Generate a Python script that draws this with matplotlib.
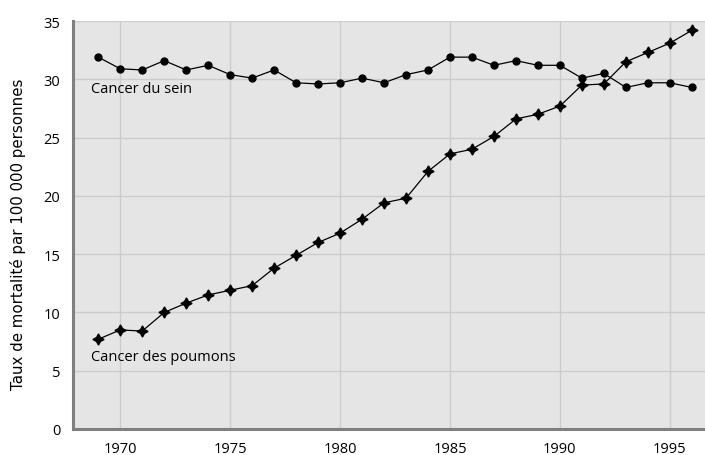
import matplotlib
matplotlib.use("Agg")
import matplotlib.pyplot as plt

years = list(range(1969, 1997))

# Cancer du sein (ronds)
sein = [31.9, 30.9, 30.8, 31.6, 30.8, 31.2, 30.4, 30.1, 30.8, 29.7,
        29.6, 29.7, 30.1, 29.7, 30.4, 30.8, 31.9, 31.9, 31.2, 31.6,
        31.2, 31.2, 30.1, 30.5, 29.3, 29.7, 29.7, 29.3]

# Cancer des poumons (etoiles)
poumons = [7.7, 8.5, 8.4, 10.0, 10.8, 11.5, 11.9, 12.3, 13.8, 14.9,
           16.0, 16.8, 18.0, 19.4, 19.8, 22.1, 23.6, 24.0, 25.1, 26.6,
           27.0, 27.7, 29.5, 29.6, 31.5, 32.3, 33.1, 34.2]

xticks = [1970, 1975, 1980, 1985, 1990, 1995]
yticks = [0, 5, 10, 15, 20, 25, 30, 35]

fig = plt.figure(figsize=(7.05, 4.56), dpi=100)
ax = fig.add_axes([73 / 705, 1 - 430 / 456, 1 - 73 / 705, 408 / 456])
ax.set_facecolor("#e5e5e5")

ax.plot(years, sein, color="black", lw=0.9, marker="o", ms=5, zorder=3)
ax.plot(years, poumons, color="black", lw=0.9, marker=(4, 1, 0), ms=8, zorder=3)

ax.text(1968.67, 29.25, "Cancer du sein", fontsize=10.5, family="Open Sans",
        va="center", ha="left")
ax.text(1968.67, 6.2, "Cancer des poumons", fontsize=10.5, family="Open Sans",
        va="center", ha="left")

ax.set_xlim(1967.85, 1996.6)
ax.set_ylim(0, 35)
ax.set_xticks(xticks)
ax.set_yticks(yticks)
ax.grid(True, color="#cccccc", lw=1)
ax.set_axisbelow(True)

for s in ["top", "right"]:
    ax.spines[s].set_visible(False)
for s in ["left", "bottom"]:
    ax.spines[s].set_color("#808080")
    ax.spines[s].set_linewidth(2.2)

ax.tick_params(length=0)
ax.tick_params(axis="x", pad=9)
ax.tick_params(axis="y", pad=9)
for lab in ax.get_xticklabels() + ax.get_yticklabels():
    lab.set_family("Open Sans")
    lab.set_fontsize(10.5)

ax.set_ylabel("Taux de mortalité par 100 000 personnes", fontsize=10.8,
              family="DejaVu Sans", labelpad=13)
ax.yaxis.label.set_y(0.48)

fig.savefig("out.png", dpi=100)
